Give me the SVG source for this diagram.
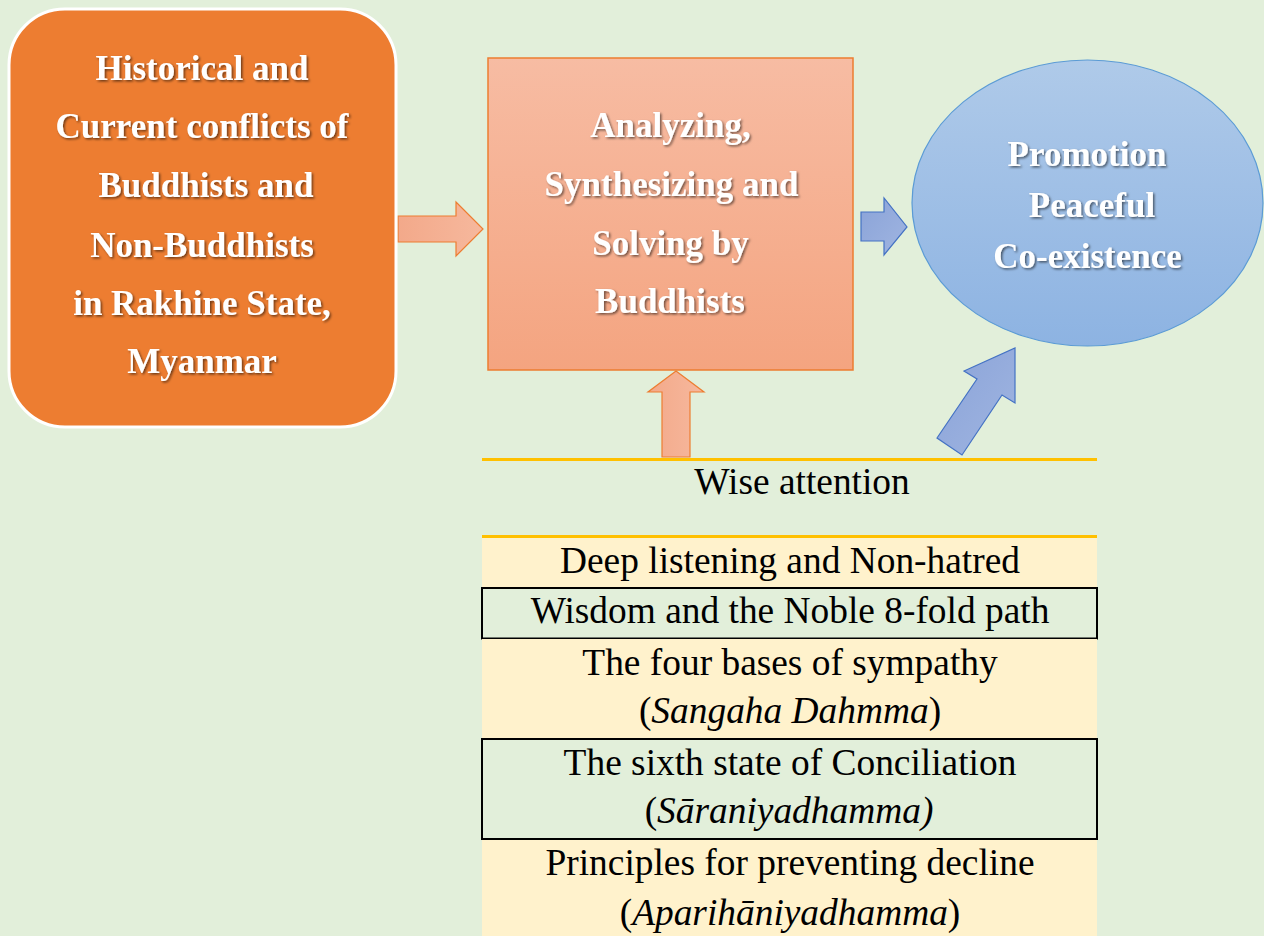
<svg xmlns="http://www.w3.org/2000/svg" width="1264" height="936" viewBox="0 0 1264 936">
<defs>
<linearGradient id="gBox2" x1="0" y1="0" x2="0" y2="1"><stop offset="0" stop-color="#F7BCA3"/><stop offset="1" stop-color="#F4A480"/></linearGradient>
<linearGradient id="gEll" x1="0" y1="0" x2="0" y2="1"><stop offset="0" stop-color="#AFCAE9"/><stop offset="1" stop-color="#8DB3E2"/></linearGradient>
<linearGradient id="gOr" x1="0" y1="0" x2="1" y2="0"><stop offset="0" stop-color="#F3A98A"/><stop offset="1" stop-color="#F6B89D"/></linearGradient>
<linearGradient id="gBl" x1="0" y1="0" x2="1" y2="1"><stop offset="0" stop-color="#8AA3D8"/><stop offset="1" stop-color="#A0B5E1"/></linearGradient>
<filter id="sh" x="-10%" y="-30%" width="120%" height="160%"><feDropShadow dx="1.5" dy="1.5" stdDeviation="1.2" flood-color="#000" flood-opacity="0.55"/></filter>
</defs>
<style>
.wt{font-family:"Liberation Serif","Times New Roman",serif;font-weight:bold;font-size:35px;fill:#fff;text-anchor:middle;filter:url(#sh)}
.bt{font-family:"Liberation Serif","Times New Roman",serif;font-size:37.4px;fill:#000;text-anchor:middle}
.oarr{fill:url(#gOr);stroke:#ED7D31;stroke-width:1.2}
.barr{fill:url(#gBl);stroke:#4472C4;stroke-width:1.2}
.yl{stroke:#FFC000;stroke-width:3}
.cream{fill:#FFF2CC}
.bbox{fill:#E2EFDA;stroke:#000;stroke-width:2}
</style>
<rect width="1264" height="936" fill="#E2EFDA"/>
<g id="connectors">
<polygon class="oarr" points="398,216 456,216 456,202 483,229 456,256 456,242 398,242"/>
<polygon class="oarr" points="662,457 662,392 648,392 676,371 704,392 690,392 690,457"/>
<polygon class="barr" points="861,212 884,212 884,198 907,227 884,255 884,241 861,241"/>
<polygon class="barr" points="937,438 977,379 964,371 1015,348 1015,403 1002,395 962,455"/>
</g>
<g id="node-conflicts">
<rect x="9" y="9" width="387" height="418" rx="56" fill="#ED7D31" stroke="#fff" stroke-width="3"/>
<text class="wt" x="202" y="80">Historical and</text>
<text class="wt" x="202" y="138">Current conflicts of</text>
<text class="wt" x="206" y="197">Buddhists and</text>
<text class="wt" x="202" y="257">Non-Buddhists</text>
<text class="wt" x="202" y="315">in Rakhine State,</text>
<text class="wt" x="202" y="373">Myanmar</text>
</g>
<g id="node-analyzing">
<rect x="488" y="58" width="365" height="312" fill="url(#gBox2)" stroke="#ED7D31" stroke-width="1.5"/>
<text class="wt" x="670.5" y="137">Analyzing,</text>
<text class="wt" x="671.5" y="196">Synthesizing and</text>
<text class="wt" x="670.5" y="255">Solving by</text>
<text class="wt" x="670" y="313">Buddhists</text>
</g>
<g id="node-promotion">
<ellipse cx="1087.5" cy="203" rx="175.5" ry="143" fill="url(#gEll)" stroke="#5B9BD5" stroke-width="1.2"/>
<text class="wt" x="1087" y="166">Promotion</text>
<text class="wt" x="1092" y="217">Peaceful</text>
<text class="wt" x="1087.5" y="268">Co-existence</text>
</g>
<g id="node-wise">
<line class="yl" x1="482" y1="459.5" x2="1097" y2="459.5"/>
<text class="bt" x="802" y="494">Wise attention</text>
<line class="yl" x1="482" y1="536.5" x2="1097" y2="536.5"/>
</g>
<g id="node-deep">
<rect class="cream" x="482" y="538" width="615" height="50"/>
<text class="bt" x="790" y="573">Deep listening and Non-hatred</text>
</g>
<g id="node-wisdom">
<rect class="bbox" x="482" y="588" width="615" height="50.5"/>
<text class="bt" x="790" y="623">Wisdom and the Noble 8-fold path</text>
</g>
<g id="node-sympathy">
<rect class="cream" x="482" y="639" width="615" height="100"/>
<text class="bt" x="790" y="675">The four bases of sympathy</text>
<text class="bt" x="790" y="723">(<tspan font-style="italic">Sangaha Dahmma</tspan>)</text>
</g>
<g id="node-conciliation">
<rect class="bbox" x="482" y="739" width="615" height="100"/>
<text class="bt" x="790" y="775">The sixth state of Conciliation</text>
<text class="bt" x="789" y="823">(<tspan font-style="italic">Sāraniyadhamma)</tspan></text>
</g>
<g id="node-decline">
<rect class="cream" x="482" y="840" width="615" height="96"/>
<text class="bt" x="790" y="875">Principles for preventing decline</text>
<text class="bt" x="790" y="925">(<tspan font-style="italic">Aparihāniyadhamma</tspan>)</text>
</g>
</svg>
